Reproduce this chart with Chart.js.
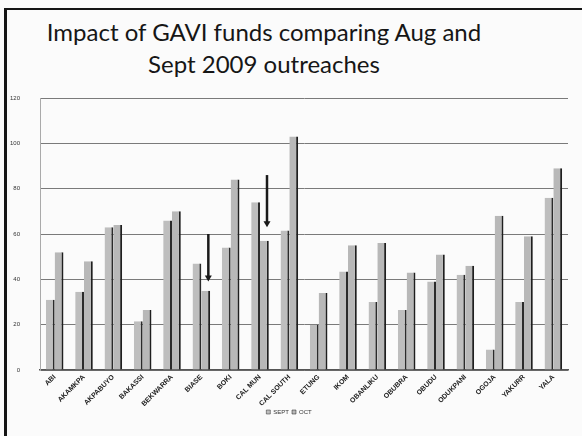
<!DOCTYPE html>
<html>
<head>
<meta charset="utf-8">
<script src="https://cdn.jsdelivr.net/npm/chart.js@4.4.1/dist/chart.umd.min.js"></script>
<style>
  body { margin: 0; background: #fbfbfb; width: 582px; height: 436px; overflow: hidden; position: relative; }
  #frame { position: absolute; left: 4px; top: 8px; width: 600px; height: 450px; border-top: 2px solid #151515; border-left: 3px solid #151515; }
  #title { position: absolute; left: 0; top: 16px; width: 528px; text-align: center; font-family: Lato, sans-serif; font-size: 24px; line-height: 32px; color: #161616; }
  #wrap { position: absolute; left: 0; top: 0; width: 582px; height: 436px; }
</style>
</head>
<body>
<div id="frame"></div>
<div id="title">Impact of GAVI funds comparing Aug and<br>Sept 2009 outreaches</div>
<div id="wrap"><canvas id="chart"></canvas></div>
<script>
// values
const categories = ['ABI', 'AKAMKPA', 'AKPABUYO', 'BAKASSI', 'BEKWARRA', 'BIASE', 'BOKI', 'CAL MUN', 'CAL SOUTH',
    'ETUNG', 'IKOM', 'OBANLIKU', 'OBUBRA', 'OBUDU', 'ODUKPANI', 'OGOJA', 'YAKURR', 'YALA'];
const sept = [31, 34.5, 63, 21.5, 66, 47, 54, 74, 61.5, 20, 43.5, 30, 26.5, 39, 42, 9, 30, 76];
const oct = [52, 48, 64, 26.5, 70, 35, 84, 57, 103, 34, 55, 56, 43, 51, 46, 68, 59, 89];
const yTicks = [0, 20, 40, 60, 80, 100, 120];
// hand-drawn arrows on the slide: category, start value, tip value
const arrowCats = ['BIASE', 'CAL MUN'];
const arrowFrom = [60, 86];
const arrowTo = [39, 63];

const arrowPlugin = {
    id: 'arrows',
    afterDatasetsDraw(chart) {
        const x = chart.scales.x, y = chart.scales.y, c = chart.ctx;
        c.save();
        c.strokeStyle = '#1a1a1a';
        c.fillStyle = '#1a1a1a';
        c.lineWidth = 2.5;
        arrowCats.forEach((cat, i) => {
            const px = x.getPixelForValue(categories.indexOf(cat)) + 7;
            const y0 = y.getPixelForValue(arrowFrom[i]);
            const y1 = y.getPixelForValue(arrowTo[i]);
            c.beginPath();
            c.moveTo(px, y0);
            c.lineTo(px, y1 - 5);
            c.stroke();
            c.beginPath();
            c.moveTo(px - 3.5, y1 - 6);
            c.lineTo(px + 3.5, y1 - 6);
            c.lineTo(px, y1);
            c.closePath();
            c.fill();
        });
        c.restore();
    }
};

document.addEventListener('DOMContentLoaded', function() {
    const ctx = document.getElementById('chart').getContext('2d');
    new Chart(ctx, {
        type: 'bar',
        data: {
            labels: categories,
            datasets: [{
                label: 'SEPT',
                data: sept,
                backgroundColor: '#bebebe',
                borderColor: '#2b2b2b',
                borderWidth: { right: 2, left: 0, top: 0, bottom: 0 },
                borderSkipped: false
            }, {
                label: 'OCT',
                data: oct,
                backgroundColor: '#b8b8b8',
                borderColor: '#1f1f1f',
                borderWidth: { right: 2, left: 0, top: 0, bottom: 0 },
                borderSkipped: false
            }]
        },
        plugins: [arrowPlugin],
        options: {
            responsive: true,
            maintainAspectRatio: false,
            animation: false,
            layout: { padding: { top: 98, right: 14, left: 10, bottom: 11 } },
            datasets: { bar: { categoryPercentage: 0.6, barPercentage: 1.0 } },
            plugins: {
                legend: {
                    position: 'bottom',
                    labels: { boxWidth: 4, boxHeight: 4, padding: 3, color: '#333', font: { family: 'Liberation Sans', size: 6 } }
                },
                tooltip: { enabled: false }
            },
            scales: {
                x: {
                    grid: { display: false, drawTicks: false },
                    border: { color: '#555', width: 1.5 },
                    afterFit: function(scale) { scale.height = 36; },
                    ticks: {
                        autoSkip: false, maxRotation: 45, minRotation: 45, padding: 3,
                        color: '#222', font: { family: 'Liberation Sans', size: 7, weight: 'bold' }
                    }
                },
                y: {
                    min: 0,
                    max: 120,
                    afterFit: function(scale) { scale.width = 30; },
                    afterBuildTicks: function(scale) { scale.ticks = yTicks.map(v => ({ value: v })); },
                    grid: { color: '#7a7a7a', lineWidth: 1, drawTicks: false },
                    border: { color: '#aaa' },
                    ticks: { padding: 20, color: '#333', font: { family: 'Liberation Sans', size: 6 } }
                }
            }
        }
    });
});
</script>
</body>
</html>
